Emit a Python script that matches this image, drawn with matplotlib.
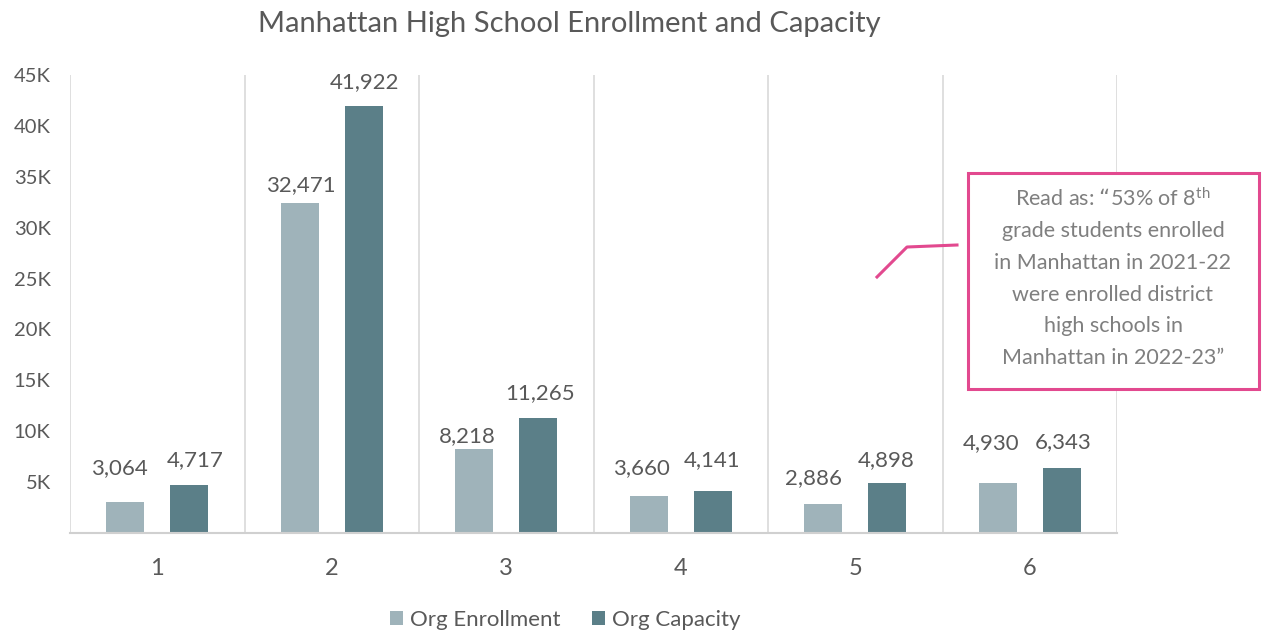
import matplotlib
matplotlib.use("Agg")
import matplotlib.pyplot as plt
import numpy as np
from matplotlib.lines import Line2D
from matplotlib.patches import Rectangle

plt.rcParams['font.family'] = ['Lato', 'DejaVu Sans']
plt.rcParams['mathtext.default'] = 'regular'

categories = ["1", "2", "3", "4", "5", "6"]
enrollment = [3064, 32471, 8218, 3660, 2886, 4930]
capacity = [4717, 41922, 11265, 4141, 4898, 6343]
series_names = ["Org Enrollment", "Org Capacity"]
ytick_vals = [5000, 10000, 15000, 20000, 25000, 30000, 35000, 40000, 45000]
ytick_labels = ["5K", "10K", "15K", "20K", "25K", "30K", "35K", "40K", "45K"]
title = "Manhattan High School Enrollment and Capacity"
callout_lines = ["Read as: \u201c53% of 8$^{th}$", "grade students enrolled",
                 "in Manhattan in 2021-22", "were enrolled district",
                 "high schools in", "Manhattan in 2022-23\u201d"]

W, H = 1263, 635
fig = plt.figure(figsize=(W / 100, H / 100), dpi=100)

def fx(x):
    return x / W

def fy(y):
    return 1 - y / H

LIGHT = "#9fb3ba"
DARK = "#5b7f88"
TXT = "#595959"
PINK = "#e2498f"

ax = fig.add_axes([fx(70), fy(533), fx(1117) - fx(70), fy(75) - fy(533)])
x = np.arange(len(categories))
bw = 0.218
off = 0.183
b1 = ax.bar(x - off, enrollment, bw, color=LIGHT, label=series_names[0])
b2 = ax.bar(x + off, capacity, bw, color=DARK, label=series_names[1])
ax.set_xlim(-0.5, len(categories) - 0.5)
ax.set_ylim(0, 45000)
ax.set_yticks(ytick_vals)
ax.set_yticklabels(ytick_labels)
ax.set_xticks(x)
ax.set_xticklabels(categories)
ax.tick_params(axis='y', length=0, pad=14, labelsize=14.5, labelcolor=TXT)
ax.tick_params(axis='x', length=0, pad=18, labelsize=17, labelcolor=TXT)
for s in ['top', 'right', 'left']:
    ax.spines[s].set_visible(False)
ax.spines['bottom'].set_color('#d0d0d0')
ax.spines['bottom'].set_linewidth(1.5)
for b in np.arange(-0.5, len(categories), 1.0):
    ax.axvline(b, color='#d9d9d9', lw=1.2, zorder=0)

# label vertical offsets (px) as in the reference's manually placed labels
dy1 = [34, 17, 13, 28, 26, 40]
dy2 = [25, 24, 25, 31, 23, 26]
dx1 = [-6, 1, -7, -7, -10, -7]
dx2 = [6, 1, 2, -1, -1, 1]
for bars, vals, dys, dxs in ((b1, enrollment, dy1, dx1), (b2, capacity, dy2, dx2)):
    for r, v, dy, dx in zip(bars, vals, dys, dxs):
        ax.annotate(f"{v:,}", (r.get_x() + r.get_width() / 2, v),
                    xytext=(dx * 0.72, dy * 0.72), textcoords='offset points',
                    ha='center', va='center', fontsize=16, color=TXT)

fig.text(fx(569), fy(24), title, ha='center', va='center', fontsize=21, color=TXT)

leg = fig.legend(handles=[b1, b2], labels=series_names, loc='center',
                 bbox_to_anchor=(fx(565), fy(620)), ncol=2, frameon=False,
                 fontsize=16, handlelength=0.6, handleheight=0.6,
                 handletextpad=0.3, columnspacing=1.4)
for t in leg.get_texts():
    t.set_color(TXT)

# callout
fig.add_artist(Rectangle((fx(968), fy(389)), fx(1259) - fx(968), fy(173) - fy(389),
                         transform=fig.transFigure, fill=True, facecolor='white',
                         edgecolor=PINK, lw=2.2))
fig.add_artist(Line2D([fx(877), fx(907), fx(957)], [fy(277), fy(247), fy(245)],
                      transform=fig.transFigure, color=PINK, lw=2.2))
ys = [199, 231, 263, 295, 326, 358]
for line, yy in zip(callout_lines, ys):
    fig.text(fx(1113), fy(yy), line, ha='center', va='center', fontsize=15.5, color='#7f7f7f')

fig.savefig("out.png", dpi=100)
